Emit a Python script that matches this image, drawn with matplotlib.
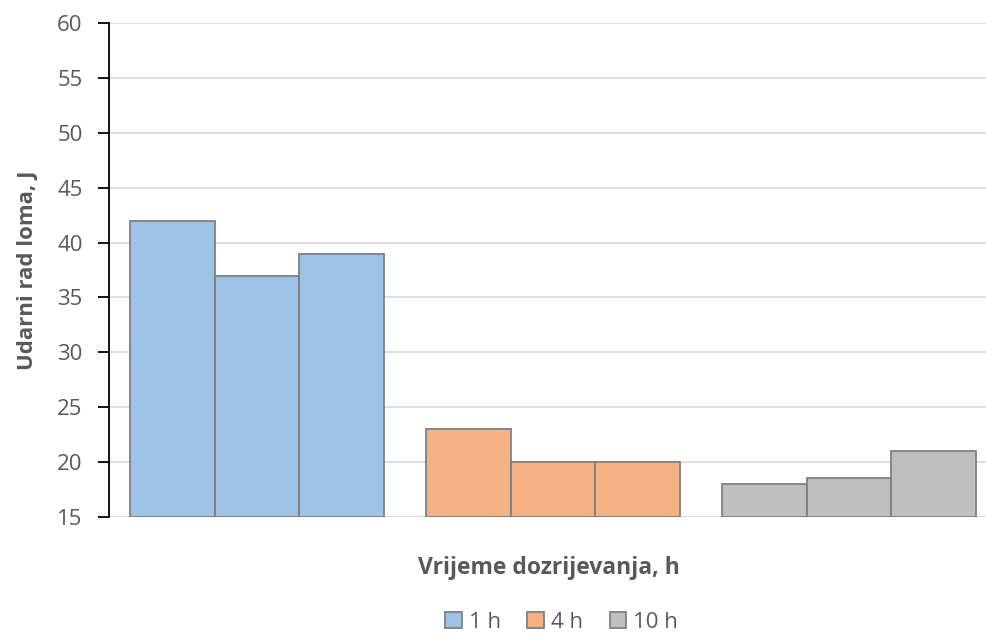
import numpy as np
import matplotlib
matplotlib.use("Agg")
import matplotlib.pyplot as plt
from matplotlib.patches import Patch

plt.rcParams['font.family'] = ['Open Sans', 'DejaVu Sans']

# data
groups = ["1 h", "4 h", "10 h"]
values_1h = [42, 37, 39]
values_4h = [23, 20, 20]
values_10h = [18, 18.6, 21]
series = [values_1h, values_4h, values_10h]
colors = ["#9DC3E6", "#F4B183", "#BFBFBF"]
yticks = [15, 20, 25, 30, 35, 40, 45, 50, 55, 60]

TXT = "#595959"
EDGE = "#7F7F7F"

fig = plt.figure(figsize=(9.87, 6.34), dpi=100)
# axes run slightly past the right edge of the figure, as in the reference
ax = fig.add_axes([0.1105, 0.1845, 0.8997, 0.7792])

bw = 0.2855
for gi, (vals, col) in enumerate(zip(series, colors)):
    offsets = (np.arange(len(vals)) - 1) * bw
    ax.bar(gi + offsets, np.array(vals) - 15, bottom=15, width=bw,
           color=col, edgecolor=EDGE, linewidth=1.3, zorder=3)

ax.set_xlim(-0.5, 2.5)
ax.set_ylim(15, 60)
ax.set_yticks(yticks)
ax.set_xticks([])
ax.grid(axis='y', color="#D9D9D9", linewidth=1.2, zorder=0)
for s in ["top", "right", "bottom"]:
    ax.spines[s].set_visible(False)
ax.spines["left"].set_color("#000000")
ax.spines["left"].set_linewidth(1.3)
ax.tick_params(axis='y', length=8, width=1.3, color="#000000",
               labelsize=16, labelcolor=TXT, pad=11)

ax.set_ylabel("Udarni rad loma, J", fontsize=16, fontweight='bold',
              color=TXT, labelpad=14)
fig.text(0.556, 0.104, "Vrijeme dozrijevanja, h", fontsize=16.5,
         fontweight='bold', color=TXT, ha='center', va='center')

handles = [Patch(facecolor=c, edgecolor=EDGE, linewidth=1.3, label=g)
           for c, g in zip(colors, groups)]
fig.legend(handles=handles, loc='center', bbox_to_anchor=(0.569, 0.018),
           ncol=3, frameon=False, fontsize=16, labelcolor=TXT,
           handlelength=0.75, handleheight=0.75, handletextpad=0.3,
           columnspacing=1.2)

fig.savefig("out.png", dpi=100)
